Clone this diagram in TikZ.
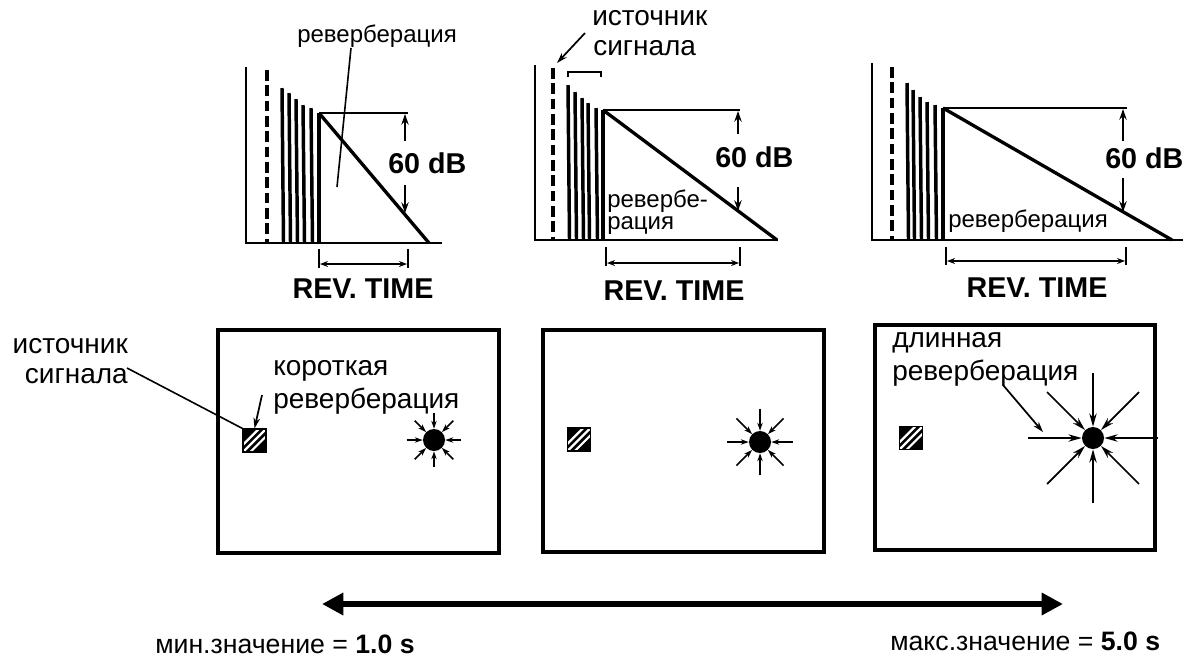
\documentclass[tikz,border=0pt]{standalone}
\usepackage{fontspec}
\setmainfont{Liberation Sans}
\usetikzlibrary{arrows.meta}
\begin{document}
\begin{tikzpicture}[x=0.75pt,y=-0.75pt,
  axis/.style={line width=1.3pt},
  dsh/.style={line width=2.6pt,dash pattern=on 8pt off 3.5pt},
  spike/.style={line width=2.6pt},
  decay/.style={line width=2.5pt},
  mid/.style={line width=1.9pt},
  dbarrow/.style={line width=1.4pt,-{Stealth[length=8pt,width=5.5pt]}},
  dim/.style={line width=1.6pt,{Stealth[length=6pt,width=4.5pt]}-{Stealth[length=6pt,width=4.5pt]}},
  lead/.style={line width=1.2pt},
  leadarrow/.style={line width=1.3pt,-{Stealth[length=8pt,width=5pt]}},
  small/.style={inner sep=0pt,font=\fontsize{18}{20}\selectfont},
  large/.style={inner sep=0pt,font=\fontsize{21}{24}\selectfont},
  eng/.style={inner sep=0pt,font=\fontsize{21.5}{24}\selectfont\bfseries},
  bot/.style={inner sep=0pt,font=\fontsize{20}{23}\selectfont},
  roombox/.style={draw,line width=3pt,inner sep=0pt},
  src/.style={draw=black,fill=black,minimum size=17.25pt,inner sep=0pt,line width=0.8pt,
    path picture={\foreach \k in {-0.32,0,0.32}
      \draw[white,line width=1.7pt] ([xshift=\k*17.25pt]path picture bounding box.south west) -- ++(17.25pt,17.25pt);}},
  dot/.style={circle,fill=black,minimum size=16.5pt,inner sep=0pt},
  ray/.style={line width=1.3pt,-{Stealth[length=6pt,width=4pt]}},
  longray/.style={line width=1.3pt,-{Stealth[length=10pt,width=5.5pt]}},
  bigarrow/.style={line width=5pt,{Triangle[length=16pt,width=16pt]}-{Triangle[length=16pt,width=16pt]}}
]
\useasboundingbox (0,0) rectangle (1191,665);

% ---------------- Graph 1 ----------------
\draw[axis] (246,67) -- (246,243) -- (442,243);
\draw[dsh] (267,70) -- (267,243);
\foreach \x/\t in {282/88,289/93,296/99,303/105,311/108}
  \draw[spike] (\x,\t) -- (\x+1.5,243);
\coordinate (g1a) at (319,113);
\draw[spike] (g1a) -- (319,243);
\draw[decay] (g1a) -- (429,243);
\draw[mid] (g1a) -- (408,113);
\node[eng,anchor=base west] (db1) at (388,173) {60 dB};
\draw[dbarrow] (405,141) -- (405,114);
\draw[dbarrow] (405,185) -- (405,213);
\draw[mid] (319,249) -- (319,268);
\draw[mid] (408,249) -- (408,268);
\draw[dim] (320,264) -- (407,264);
\node[eng,anchor=base] (rt1) at (363,298) {REV. TIME};
\node[small,anchor=base west] (rv1) at (297,42) {реверберация};
\draw[lead] (351,48) -- (337,187);

% ---------------- Graph 2 ----------------
\draw[axis] (535,65) -- (535,240) -- (778,240);
\draw[dsh] (553,68) -- (553,240);
\foreach \x/\t in {568/85,575/92,582/98,588/103,596/108}
  \draw[spike] (\x,\t) -- (\x+1.5,240);
\coordinate (g2a) at (603,110);
\draw[spike] (g2a) -- (603,240);
\draw[decay] (g2a) -- (777,240);
\draw[mid] (g2a) -- (740,110);
\node[eng,anchor=base west] (db2) at (715,167) {60 dB};
\draw[dbarrow] (738,134) -- (738,111);
\draw[dbarrow] (738,187) -- (738,211);
\draw[lead] (568,77) -- (568,72) -- (601,72) -- (601,77);
\draw[mid] (606,247) -- (606,266);
\draw[mid] (740,247) -- (740,266);
\draw[dim] (607,263) -- (739,263);
\node[eng,anchor=base] (rt2) at (674,300) {REV. TIME};
\node[large,anchor=base west] (src2a) at (592,25) {источник};
\node[large,anchor=base west] (src2b) at (593,55) {сигнала};
\draw[leadarrow] (585,33) -- (557,63);
\node[small,anchor=base west] (rv2a) at (607,207) {ревербе-};
\node[small,anchor=base west] (rv2b) at (607,229) {рация};

% ---------------- Graph 3 ----------------
\draw[axis] (872,63) -- (872,240) -- (1183,240);
\draw[dsh] (892,67) -- (892,240);
\foreach \x/\t in {907/83,913/90,920/97,927/102,935/105}
  \draw[spike] (\x,\t) -- (\x+1.5,240);
\coordinate (g3a) at (943,108);
\draw[spike] (g3a) -- (943,240);
\draw[decay] (g3a) -- (1172,240);
\draw[mid] (g3a) -- (1127,108);
\node[eng,anchor=base west] (db3) at (1105,168) {60 dB};
\draw[dbarrow] (1123,141) -- (1123,109);
\draw[dbarrow] (1123,178) -- (1123,212);
\draw[mid] (946,247) -- (946,265);
\draw[mid] (1126,247) -- (1126,265);
\draw[dim] (947,261) -- (1125,261);
\node[eng,anchor=base] (rt3) at (1037,297) {REV. TIME};
\node[small,anchor=base west] (rv3) at (948,227) {реверберация};

% ---------------- Rooms ----------------
\node[roombox,minimum width=210.75pt,minimum height=167.25pt] (r1) at (358.5,441.5) {};
\node[roombox,minimum width=210.75pt,minimum height=166.5pt] (r2) at (683.5,441) {};
\node[roombox,minimum width=210pt,minimum height=168.75pt] (r3) at (1015,437.5) {};

\node[src] (s1) at (254.5,440.5) {};
\node[src] (s2) at (579,439.5) {};
\node[src] (s3) at (911,438) {};

\node[dot] (d1) at (434,440) {};
\node[dot] (d2) at (760,442) {};
\node[dot] (d3) at (1093,438) {};

\foreach \a in {0,45,...,315}
  \draw[ray] ([shift={(\a:20.5pt)}]d1.center) -- (d1.\a);
\foreach \a in {0,45,...,315}
  \draw[ray] ([shift={(\a:25pt)}]d2.center) -- (d2.\a);
\foreach \a in {0,45,...,315}
  \draw[longray] ([shift={(\a:48.75pt)}]d3.center) -- (d3.\a);

% labels in rooms
\node[large,anchor=base east] (lsrc1) at (128,353) {источник};
\node[large,anchor=base east] (lsrc2) at (128,383) {сигнала};
\draw[lead] (127,368) -- (s1.north west);
\node[large,anchor=base west] (sh1) at (273,375) {короткая};
\node[large,anchor=base west] (sh2) at (273,408) {реверберация};
\draw[leadarrow] (262,395) -- (s1.north);
\node[large,anchor=base west] (lg1) at (892,347) {длинная};
\node[large,anchor=base west] (lg2) at (892,380) {реверберация};
\draw[leadarrow] (1003,385) -- (1043,432);

% ---------------- Bottom scale ----------------
\coordinate (bl) at (322,604);
\coordinate (br) at (1063,604);
\draw[bigarrow] (bl) -- (br);
\node[bot,anchor=base west] (mn) at (155,653) {мин.значение = \textbf{1.0 s}};
\node[bot,anchor=base west] (mx) at (890,650) {макс.значение = \textbf{5.0 s}};
\end{tikzpicture}
\end{document}
